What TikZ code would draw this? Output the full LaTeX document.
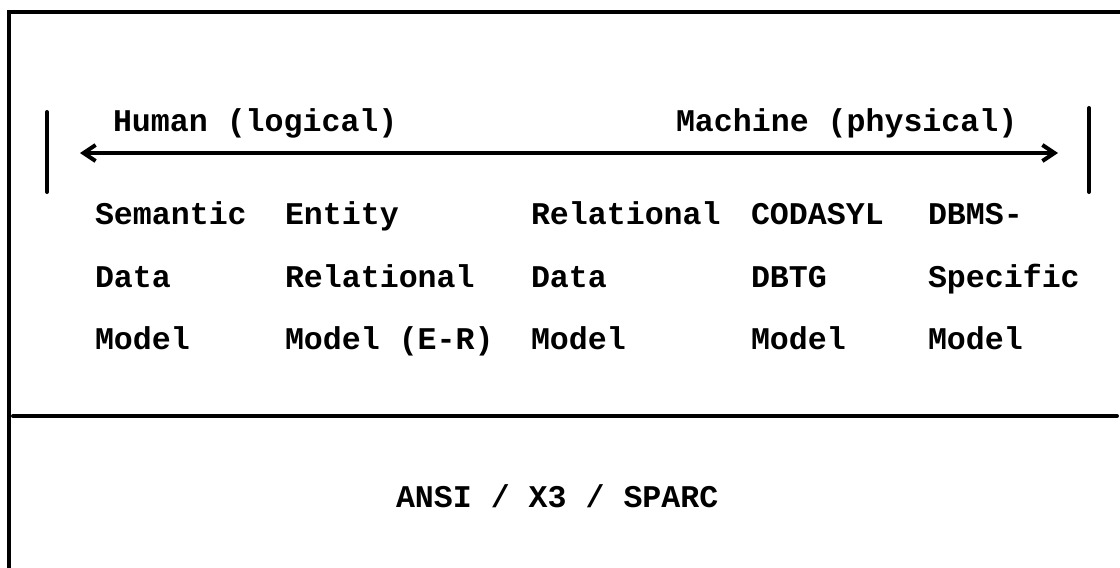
\documentclass[tikz,border=0pt]{standalone}
\usepackage{fontspec}
\setmonofont{Liberation Mono}
\usetikzlibrary{arrows.meta}
\tikzset{
  x=0.5pt, y=-0.5pt,
  lbl/.style={anchor=base west, inner sep=0pt, outer sep=0pt,
    font=\ttfamily\bfseries\fontsize{15.8}{19}\selectfont},
  rule/.style={line width=2pt, line cap=round},
  scalearrow/.style={line width=1.8pt, {Straight Barb[length=6pt,width=8pt,line width=2pt]}-{Straight Barb[length=6pt,width=8pt,line width=2pt]}}
}
\begin{document}
\begin{tikzpicture}
\useasboundingbox (0,0) rectangle (1120,568);
% frame
\coordinate (tl) at (9,12);
\coordinate (tr) at (1120,12);
\coordinate (bl) at (9,568);
\draw[rule, line cap=butt] (tr) -- (tl) -- (bl);
\coordinate (ml) at (13,416);
\coordinate (mr) at (1117,416);
\draw[rule] (ml) -- (mr);
% side bars
\coordinate (lbt) at (47,112);
\coordinate (lbb) at (47,192);
\coordinate (rbt) at (1089,108);
\coordinate (rbb) at (1089,192);
\draw[rule] (lbt) -- (lbb);
\draw[rule] (rbt) -- (rbb);
% scale arrow
\coordinate (al) at (80,153);
\coordinate (ar) at (1058,153);
\draw[scalearrow] (al) -- (ar);
\node[lbl] (human) at (113,131) {Human (logical)};
\node[lbl] (machine) at (676,131) {Machine (physical)};
% columns
\node[lbl] (c1a) at (95,224) {Semantic};
\node[lbl] (c1b) at (95,287) {Data};
\node[lbl] (c1c) at (95,349) {Model};
\node[lbl] (c2a) at (285,224) {Entity};
\node[lbl] (c2b) at (285,287) {Relational};
\node[lbl] (c2c) at (285,349) {Model (E-R)};
\node[lbl] (c3a) at (531,224) {Relational};
\node[lbl] (c3b) at (531,287) {Data};
\node[lbl] (c3c) at (531,349) {Model};
\node[lbl] (c4a) at (751,224) {CODASYL};
\node[lbl] (c4b) at (751,287) {DBTG};
\node[lbl] (c4c) at (751,349) {Model};
\node[lbl] (c5a) at (928,224) {DBMS-};
\node[lbl] (c5b) at (928,287) {Specific};
\node[lbl] (c5c) at (928,349) {Model};
\node[lbl] (ansi) at (396,507) {ANSI / X3 / SPARC};
\end{tikzpicture}
\end{document}
